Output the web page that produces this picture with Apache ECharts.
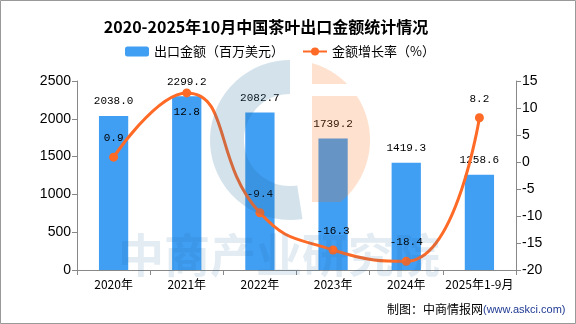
<!DOCTYPE html>
<html><head><meta charset="utf-8">
<script src="https://cdn.jsdelivr.net/npm/echarts@6/dist/echarts.min.js"></script>
<style>html,body{margin:0;padding:0;background:#fff}#c{width:576px;height:324px}</style>
</head><body><div id="c"></div>
<script>
var categories = ['2020年','2021年','2022年','2023年','2024年','2025年1-9月'];
var exportValue = [2038.0, 2299.2, 2082.7, 1739.2, 1419.3, 1258.6];
var growthRate = [0.9, 12.8, -9.4, -16.3, -18.4, 8.2];
var leftTicks = [0, 2500, 500];
var rightTicks = [-20, 15, 5];

// decorative watermark geometry (logo), not data
var LCX = 290, LCY = 140, LR = 80;
function orangePiece(y0, y1) {
  var pts = [];
  var xL = 312;
  for (var k = 0; k <= 40; k++) {
    var y = y0 + (y1 - y0) * k / 40;
    var dy = y - LCY;
    var w = Math.sqrt(Math.max(0, LR * LR - dy * dy));
    pts.push([Math.max(xL, LCX + w), y]);
  }
  pts.push([xL, y1]); pts.push([xL, y0]);
  return pts;
}

var chart = echarts.init(document.getElementById('c'));
var mono = 'Liberation Mono, monospace';
chart.setOption({
  animation: false,
  backgroundColor: '#fff',
  title: {
    text: '2020-2025年10月中国茶叶出口金额统计情况',
    left: 261, top: 14, textAlign: 'center',
    textStyle: {fontFamily: 'Noto Sans CJK SC', fontWeight: 'bold', fontSize: 16, color: '#000'}
  },
  legend: {
    left: 120, top: 40, itemWidth: 24, itemHeight: 10, itemGap: 18,
    textStyle: {fontFamily: 'Noto Sans CJK SC', fontSize: 13, color: '#000'},
    data: ['出口金额（百万美元）', '金额增长率（%）']
  },
  grid: {left: 77, right: 60, top: 81, bottom: 54},
  xAxis: {
    type: 'category', data: categories,
    axisLine: {lineStyle: {color: '#888'}},
    axisTick: {show: true, lineStyle: {color: '#888'}},
    axisLabel: {color: '#000', fontSize: 12, fontFamily: 'Noto Sans CJK SC', margin: 8, interval: 0}
  },
  yAxis: [{
    type: 'value', min: leftTicks[0], max: leftTicks[1], interval: leftTicks[2],
    axisLine: {show: true, lineStyle: {color: '#888'}},
    axisTick: {show: true, lineStyle: {color: '#888'}},
    splitLine: {show: false},
    axisLabel: {color: '#000', fontSize: 14, fontFamily: 'Liberation Sans', margin: 6,
      formatter: function(v){return String(v);}}
  }, {
    type: 'value', min: rightTicks[0], max: rightTicks[1], interval: rightTicks[2],
    axisLine: {show: true, lineStyle: {color: '#888'}},
    axisTick: {show: true, lineStyle: {color: '#888'}},
    splitLine: {show: false},
    axisLabel: {color: '#000', fontSize: 14, fontFamily: 'Liberation Sans', margin: 6,
      formatter: function(v){return String(v);}}
  }],
  series: [{
    name: '出口金额（百万美元）', type: 'bar', data: exportValue, barWidth: '40%',
    itemStyle: {color: '#409EF3'},
    label: {show: true, position: 'top', distance: 9, color: '#000', fontSize: 11, fontFamily: mono,
      formatter: function(p){return p.value.toFixed(1);}}
  }, {
    name: '金额增长率（%）', type: 'line', yAxisIndex: 1, smooth: true,
    data: growthRate.map(function(v, i){
      var o = {value: v};
      if (i === 1) o.label = {position: 'bottom', distance: 9};
      return o;
    }),
    symbol: 'circle', symbolSize: 9,
    lineStyle: {color: '#FF6A26', width: 3},
    itemStyle: {color: '#FF6A26'},
    label: {show: true, position: 'top', distance: 9, color: '#000', fontSize: 11, fontFamily: mono}
  }],
  graphic: [
    {type: 'arc', z: 100, silent: true, shape: {cx: LCX, cy: LCY, r: LR - 17, startAngle: Math.PI*0.45, endAngle: Math.PI*1.5},
      style: {stroke: 'rgba(40,110,160,0.2)', lineWidth: 34, fill: null}},
    {type: 'polygon', z: 100, silent: true, shape: {points: orangePiece(LCY - LR + 2, 84)},
      style: {fill: 'rgba(250,110,17,0.2)'}},
    {type: 'polygon', z: 100, silent: true, shape: {points: orangePiece(96, LCY + 62)},
      style: {fill: 'rgba(250,110,17,0.2)'}},
    {type: 'text', z: 100, silent: true, left: 118, top: 232,
      style: {text: '中商产业研究院', font: 'bold 46px Noto Sans CJK SC', fill: 'rgba(40,110,160,0.13)'}},
    {type: 'text', left: 387, top: 303, style: {text: '制图：中商情报网', font: '12px Noto Sans CJK SC', fill: '#000'}},
    {type: 'text', left: 483, top: 304, style: {text: '(www.askci.com)', font: '11px Liberation Sans', fill: '#1F3A93'}},
    {type: 'rect', silent: true, shape: {x: 0.5, y: 0.5, width: 575, height: 323}, style: {stroke: '#999', fill: null, lineWidth: 1}}
  ]
});
</script></body></html>
